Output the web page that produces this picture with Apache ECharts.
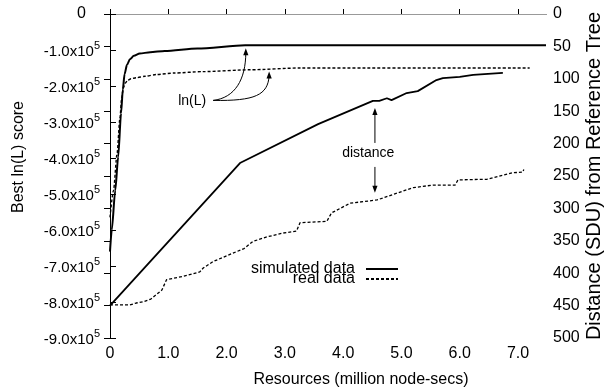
<!DOCTYPE html>
<html>
<head>
<meta charset="utf-8">
<script src="https://cdn.jsdelivr.net/npm/echarts@6/dist/echarts.min.js"></script>
<style>
  html, body { margin: 0; padding: 0; background: #fff; }
  #chart { width: 612px; height: 389px; }
</style>
</head>
<body>
<div id="chart"></div>
<script>
// Best ln(L) score vs. resources, simulated data
const simScoreRes = [0, 0.03, 0.09, 0.14, 0.19, 0.22, 0.25, 0.29, 0.34, 0.41, 0.51, 0.69, 0.94, 1.5, 2.32, 7.48];
const simScore = [-660000, -600000, -490000, -397000, -275000, -210000, -167000, -142000, -126000, -116000, -110000, -106000, -103000, -96000, -87000, -87000];

// Best ln(L) score vs. resources, real data
const realScoreRes = [0, 0.06, 0.12, 0.17, 0.2, 0.23, 0.26, 0.3, 0.36, 0.45, 0.6, 0.8, 1.1, 1.6, 2.4, 3.26, 7.2];
const realScore = [-565000, -490000, -390000, -290000, -235000, -205000, -192000, -185000, -180000, -177000, -173000, -168000, -164000, -160000, -155000, -150000, -150000];

// Distance (SDU) from reference tree, simulated data
const simDistRes = [0, 2.23, 3.57, 4.51, 4.62, 4.75, 4.83, 5.09, 5.28, 5.6, 5.71, 6.0, 6.23, 6.74];
const simDist = [450, 230, 170, 134, 134, 130, 133, 122, 119, 102, 99, 97, 94, 91];

// Distance (SDU) from reference tree, real data
const realDistRes = [0, 0.34, 0.45, 0.57, 0.7, 0.89, 0.97, 1.25, 1.54, 1.6, 1.77, 2.11, 2.3, 2.45, 2.69, 2.97, 3.2, 3.26, 3.72, 3.8, 4.12, 4.58, 5.2, 5.54, 5.92, 5.97, 6.47, 6.91, 7.08, 7.1];
const realDist = [449, 449, 446, 444, 440, 426, 410, 405, 398, 392, 382, 369, 362, 351, 344, 338, 335, 322, 320, 307, 292, 287, 268, 264, 264, 256, 255, 245, 244, 240];

// Axis ranges and tick steps
const resMax = 7.48;
const scoreMin = -900000, scoreStep = 100000;
const distMax = 500, distStep = 50;

const FONT = '"Liberation Sans", Arial, Helvetica, sans-serif';

const zip = (xs, ys) => xs.map((x, i) => [x, ys[i]]);

const chart = echarts.init(document.getElementById('chart'), null, { renderer: 'canvas' });

const hiddenSymbol = { color: 'rgba(0,0,0,0)', borderWidth: 0, opacity: 0 };

const option = {
  animation: false,
  backgroundColor: '#fff',
  textStyle: { fontFamily: FONT, color: '#000' },
  grid: { left: 110, right: 66, top: 14, bottom: 51, containLabel: false },
  legend: {
    data: [{ name: 'simulated data' }, { name: 'real data' }],
    orient: 'vertical',
    align: 'right',
    right: 208,
    top: 256,
    itemWidth: 32,
    itemHeight: 10,
    itemGap: -6,
    selectedMode: false,
    itemStyle: hiddenSymbol,
    textStyle: { fontFamily: FONT, fontSize: 16, color: '#000', lineHeight: 10, padding: [0, 6, 0, 0] }
  },
  xAxis: [
    {
      type: 'value', position: 'bottom', min: 0, max: resMax, interval: 1,
      axisLine: { lineStyle: { color: '#000', width: 1 } },
      axisTick: { inside: true, length: 5, lineStyle: { color: '#000' } },
      splitLine: { show: false },
      axisLabel: {
        showMaxLabel: false, margin: 8, fontSize: 16, color: '#000', fontFamily: FONT,
        formatter: v => (Math.abs(v - Math.round(v)) > 1e-9 ? '' : (v === 0 ? '0' : v.toFixed(1)))
      }
    },
    {
      type: 'value', position: 'top', min: 0, max: resMax,
      axisLine: { show: true, lineStyle: { color: '#999', width: 1 } },
      axisTick: { show: false }, axisLabel: { show: false }, splitLine: { show: false }
    }
  ],
  yAxis: [
    {
      type: 'value', position: 'left', min: scoreMin, max: 0, interval: scoreStep,
      axisLine: { show: true, lineStyle: { color: '#000', width: 1 } },
      axisTick: { show: true, inside: true, length: 6, lineStyle: { color: '#000' } },
      splitLine: { show: false },
      axisLabel: {
        margin: 10, color: '#000', fontFamily: FONT,
        formatter: v => v === 0 ? '{z|0}' : '{m|' + (v / 100000).toFixed(1) + 'x10}{s|5}',
        rich: {
          z: { fontSize: 16, fontFamily: FONT, color: '#000', padding: [0, 14, 0, 0] },
          m: { fontSize: 15, fontFamily: FONT, color: '#000', lineHeight: 19, verticalAlign: 'bottom' },
          s: { fontSize: 11, fontFamily: FONT, color: '#000', lineHeight: 12, verticalAlign: 'top' }
        }
      }
    },
    {
      type: 'value', position: 'right', min: 0, max: distMax, interval: distStep, inverse: true,
      axisLine: { show: true, lineStyle: { color: '#000', width: 1 } },
      axisTick: { show: true, inside: true, length: 6, lineStyle: { color: '#000' } },
      splitLine: { show: false },
      axisLabel: { margin: 7, fontSize: 16, color: '#000', fontFamily: FONT }
    }
  ],
  series: [
    {
      name: 'simulated data', type: 'line', xAxisIndex: 0, yAxisIndex: 0,
      data: zip(simScoreRes, simScore),
      symbol: 'none', smooth: 0.25, smoothMonotone: 'x',
      itemStyle: hiddenSymbol,
      lineStyle: { color: '#000', width: 2 }, z: 4
    },
    {
      name: 'real data', type: 'line', xAxisIndex: 0, yAxisIndex: 0,
      data: zip(realScoreRes, realScore),
      symbol: 'none', smooth: 0.25, smoothMonotone: 'x',
      itemStyle: hiddenSymbol,
      lineStyle: { color: '#000', width: 1.4, type: [3, 2] }, z: 3
    },
    {
      name: 'simulated data', type: 'line', xAxisIndex: 0, yAxisIndex: 1,
      data: zip(simDistRes, simDist),
      symbol: 'none',
      itemStyle: hiddenSymbol,
      lineStyle: { color: '#000', width: 1.8 }, z: 4
    },
    {
      name: 'real data', type: 'line', xAxisIndex: 0, yAxisIndex: 1,
      data: zip(realDistRes, realDist),
      symbol: 'none',
      itemStyle: hiddenSymbol,
      lineStyle: { color: '#000', width: 1.3, type: [3, 2] }, z: 3
    }
  ]
};

chart.setOption(option);

// Annotations placed in data coordinates
const lnLLabel = { res: 1.41, score: -242000 };
const lnLArrows = [
  { from: [1.77, -240000], c1: [2.14, -233000], c2: [2.33, -183000], to: [2.33, -95000] },
  { from: [1.77, -240000], c1: [2.49, -242000], c2: [2.71, -225000], to: [2.73, -160000] }
];
const distLabel = { res: 4.43, dist: 214.5 };
const distArrows = [
  { res: 4.545, from: 199, to: 145 },
  { res: 4.545, from: 236, to: 276 }
];

const toScorePx = p => chart.convertToPixel({ xAxisIndex: 0, yAxisIndex: 0 }, p);
const toDistPx = p => chart.convertToPixel({ xAxisIndex: 0, yAxisIndex: 1 }, p);

function arrowHead(tip, dirX, dirY) {
  const len = 7, half = 2.6;
  const bx = tip[0] - dirX * len, by = tip[1] - dirY * len;
  const nx = -dirY, ny = dirX;
  return {
    type: 'polygon', silent: true, z: 10,
    shape: { points: [tip, [bx + nx * half, by + ny * half], [bx - nx * half, by - ny * half]] },
    style: { fill: '#000' }
  };
}

const graphics = [];

const lp = toScorePx([lnLLabel.res, lnLLabel.score]);
graphics.push({
  type: 'text', silent: true, z: 10, x: lp[0], y: lp[1],
  style: { text: 'ln(L)', font: '14px ' + FONT, fill: '#000', align: 'center', verticalAlign: 'middle' }
});
lnLArrows.forEach(a => {
  const p0 = toScorePx(a.from), p1 = toScorePx(a.c1), p2 = toScorePx(a.c2), p3 = toScorePx(a.to);
  graphics.push({
    type: 'bezierCurve', silent: true, z: 10,
    shape: { x1: p0[0], y1: p0[1], cpx1: p1[0], cpy1: p1[1], cpx2: p2[0], cpy2: p2[1], x2: p3[0], y2: p3[1] + 4 },
    style: { stroke: '#000', lineWidth: 1, fill: null }
  });
  graphics.push(arrowHead(p3, 0, -1));
});

const dp = toDistPx([distLabel.res, distLabel.dist]);
graphics.push({
  type: 'text', silent: true, z: 10, x: dp[0], y: dp[1],
  style: { text: 'distance', font: '14px ' + FONT, fill: '#000', align: 'center', verticalAlign: 'middle' }
});
distArrows.forEach(a => {
  const p0 = toDistPx([a.res, a.from]), p1 = toDistPx([a.res, a.to]);
  const dir = p1[1] < p0[1] ? -1 : 1;
  graphics.push({
    type: 'line', silent: true, z: 10,
    shape: { x1: p0[0], y1: p0[1], x2: p1[0], y2: p1[1] - dir * 4 },
    style: { stroke: '#000', lineWidth: 1 }
  });
  graphics.push(arrowHead(p1, 0, dir));
});

// Axis titles
graphics.push({
  type: 'text', silent: true, x: 19, y: 157, rotation: Math.PI / 2,
  style: { text: 'Best ln(L) score', font: '16px ' + FONT, fill: '#000', align: 'center', verticalAlign: 'middle' }
});
graphics.push({
  type: 'text', silent: true, x: 594, y: 176, rotation: Math.PI / 2,
  style: { text: 'Distance (SDU) from Reference Tree', font: '20px ' + FONT, fill: '#000', align: 'center', verticalAlign: 'middle' }
});
graphics.push({
  type: 'text', silent: true, x: 361, y: 380,
  style: { text: 'Resources (million node-secs)', font: '16px ' + FONT, fill: '#000', align: 'center', verticalAlign: 'middle' }
});

chart.setOption({ graphic: graphics });
</script>
</body>
</html>
